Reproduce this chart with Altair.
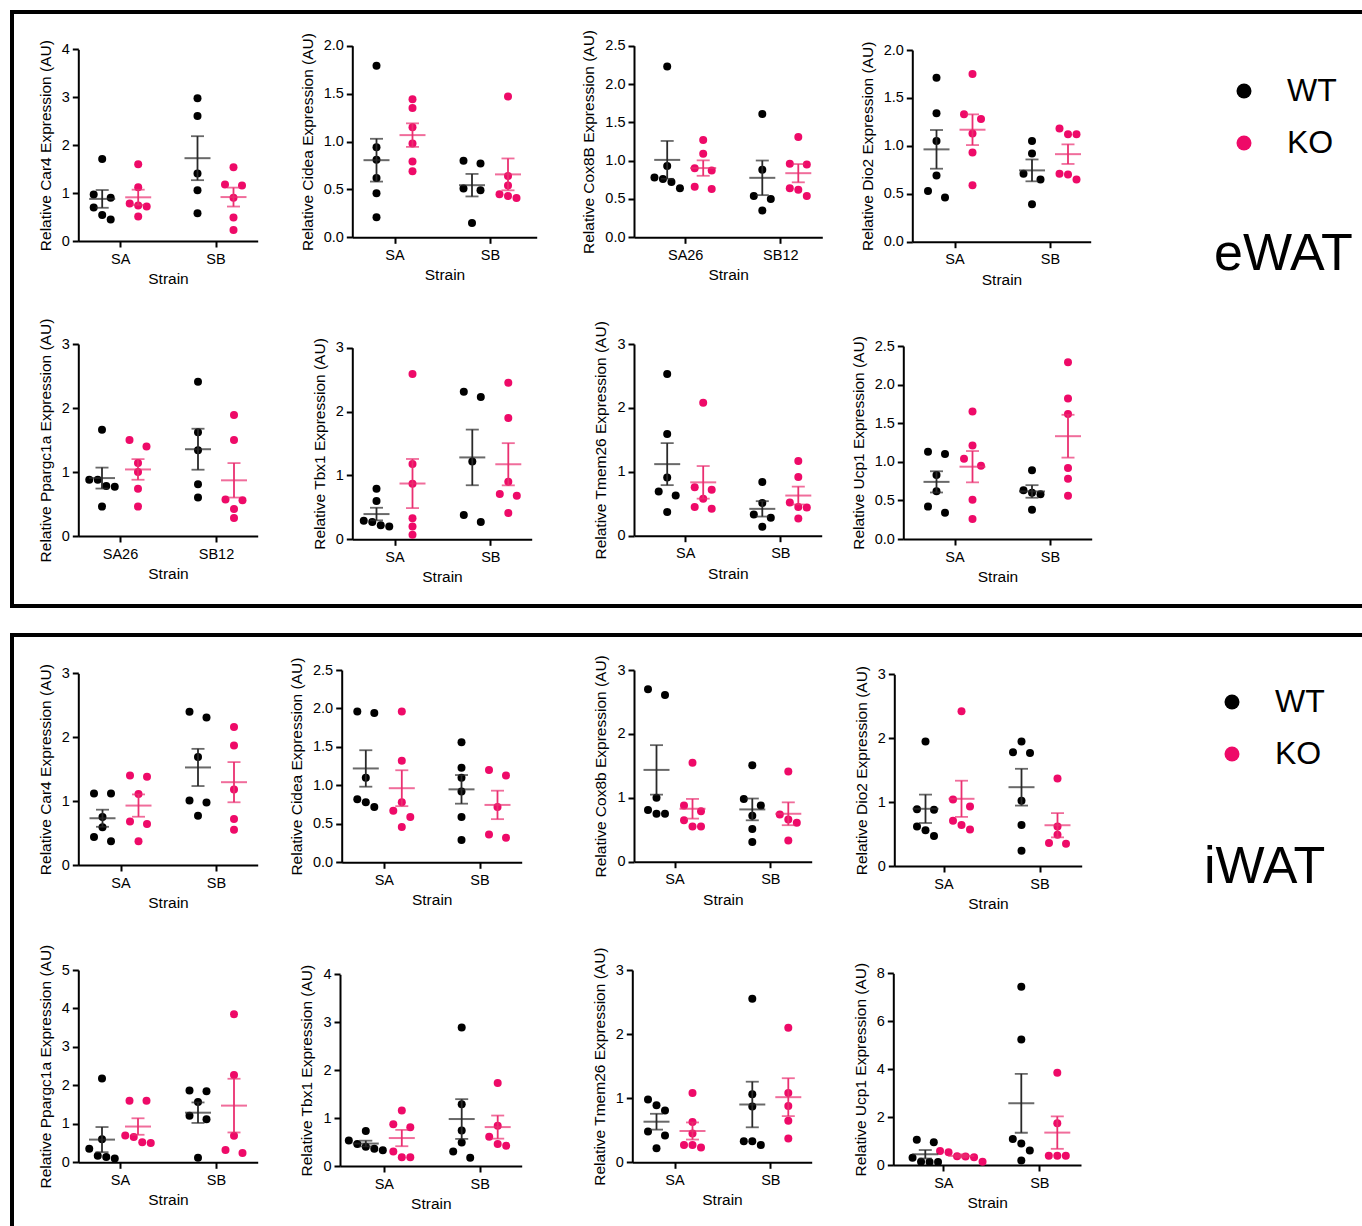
import altair as alt
import pandas as pd

# ---------------- data ----------------
# eWAT
E_CAR4 = {"WT_SA": [1.71, 0.97, 0.90, 0.70, 0.54, 0.45], "KO_SA": [1.60, 1.12, 0.78, 0.74, 0.72, 0.51],
          "WT_SB": [2.98, 2.61, 1.41, 1.06, 0.58], "KO_SB": [1.54, 1.18, 1.16, 0.90, 0.49, 0.23]}
E_CIDEA = {"WT_SA": [1.79, 0.94, 0.81, 0.62, 0.46, 0.21], "KO_SA": [1.44, 1.35, 1.15, 0.98, 0.79, 0.69],
           "WT_SB": [0.80, 0.77, 0.51, 0.49, 0.15], "KO_SB": [1.47, 0.64, 0.54, 0.45, 0.43, 0.41]}
E_COX8B = {"WT_SA": [2.23, 0.93, 0.78, 0.76, 0.72, 0.64], "KO_SA": [1.27, 1.09, 0.90, 0.87, 0.66, 0.63],
           "WT_SB": [1.61, 0.88, 0.54, 0.50, 0.35], "KO_SB": [1.31, 0.96, 0.95, 0.64, 0.62, 0.54]}
E_DIO2 = {"WT_SA": [1.71, 1.34, 1.05, 0.69, 0.53, 0.46], "KO_SA": [1.75, 1.33, 1.28, 1.13, 0.93, 0.59],
          "WT_SB": [1.05, 0.92, 0.71, 0.65, 0.39], "KO_SB": [1.18, 1.12, 1.12, 0.71, 0.70, 0.65]}
E_PPARGC1A = {"WT_SA": [1.66, 0.88, 0.88, 0.78, 0.77, 0.46], "KO_SA": [1.50, 1.40, 1.14, 1.00, 0.74, 0.46],
              "WT_SB": [2.41, 1.62, 1.34, 0.81, 0.60], "KO_SB": [1.89, 1.50, 0.57, 0.56, 0.42, 0.28]}
E_TBX1 = {"WT_SA": [0.79, 0.60, 0.29, 0.27, 0.22, 0.20], "KO_SA": [2.59, 1.18, 0.87, 0.33, 0.20, 0.07],
          "WT_SB": [2.31, 2.23, 1.22, 0.38, 0.27], "KO_SB": [2.45, 1.90, 0.90, 0.71, 0.68, 0.41]}
E_TMEM26 = {"WT_SA": [2.53, 1.59, 0.91, 0.69, 0.63, 0.37], "KO_SA": [2.08, 0.76, 0.72, 0.58, 0.45, 0.42],
            "WT_SB": [0.84, 0.51, 0.33, 0.28, 0.14], "KO_SB": [1.17, 0.92, 0.52, 0.45, 0.44, 0.27]}
E_UCP1 = {"WT_SA": [1.13, 1.10, 0.83, 0.62, 0.42, 0.34], "KO_SA": [1.65, 1.21, 1.04, 0.95, 0.51, 0.26],
          "WT_SB": [0.89, 0.63, 0.60, 0.58, 0.38], "KO_SB": [2.29, 1.82, 1.62, 0.92, 0.78, 0.56]}
# iWAT
I_CAR4 = {"WT_SA": [1.12, 1.12, 0.75, 0.59, 0.44, 0.37], "KO_SA": [1.40, 1.38, 1.11, 0.68, 0.64, 0.37],
          "WT_SB": [2.40, 2.31, 1.69, 1.01, 0.98, 0.77], "KO_SB": [2.16, 1.87, 1.18, 0.72, 0.55]}
I_CIDEA = {"WT_SA": [1.96, 1.94, 1.10, 0.82, 0.78, 0.72], "KO_SA": [1.96, 1.32, 0.78, 0.67, 0.59, 0.46],
           "WT_SB": [1.56, 1.23, 1.10, 0.92, 0.59, 0.29], "KO_SB": [1.20, 1.13, 0.72, 0.36, 0.32]}
I_COX8B = {"WT_SA": [2.70, 2.61, 1.00, 0.81, 0.75, 0.75], "KO_SA": [1.55, 0.88, 0.79, 0.65, 0.55, 0.55],
           "WT_SB": [1.51, 0.98, 0.88, 0.72, 0.51, 0.31], "KO_SB": [1.41, 0.74, 0.66, 0.61, 0.33]}
I_DIO2 = {"WT_SA": [1.95, 0.89, 0.88, 0.62, 0.56, 0.47], "KO_SA": [2.42, 1.04, 0.93, 0.71, 0.64, 0.57],
          "WT_SB": [1.95, 1.78, 1.77, 1.02, 0.64, 0.24], "KO_SB": [1.37, 0.62, 0.49, 0.36, 0.35]}
I_PPARGC1A = {"WT_SA": [2.18, 0.60, 0.35, 0.17, 0.14, 0.10], "KO_SA": [1.60, 1.60, 0.70, 0.66, 0.52, 0.50],
              "WT_SB": [1.87, 1.85, 1.57, 1.21, 1.12, 0.12], "KO_SB": [3.85, 2.27, 0.69, 0.32, 0.24]}
I_TBX1 = {"WT_SA": [0.73, 0.53, 0.46, 0.40, 0.36, 0.33], "KO_SA": [1.16, 0.87, 0.81, 0.30, 0.18, 0.18],
          "WT_SB": [2.89, 1.29, 0.74, 0.49, 0.30, 0.17], "KO_SB": [1.73, 0.84, 0.61, 0.46, 0.42]}
I_TMEM26 = {"WT_SA": [0.98, 0.89, 0.81, 0.48, 0.42, 0.22], "KO_SA": [1.08, 0.63, 0.45, 0.27, 0.27, 0.23],
            "WT_SB": [2.55, 1.06, 0.87, 0.33, 0.33, 0.27], "KO_SB": [2.10, 1.08, 0.88, 0.65, 0.37]}
I_UCP1 = {"WT_SA": [1.05, 0.95, 0.30, 0.14, 0.13, 0.12], "KO_SA": [0.58, 0.53, 0.36, 0.35, 0.32, 0.14],
          "WT_SB": [7.44, 5.24, 1.08, 0.90, 0.60, 0.19], "KO_SB": [3.85, 1.74, 0.39, 0.39, 0.39]}

CATS_AB = ["SA", "SB"]
CATS_NUM = ["SA26", "SB12"]
GENOTYPES = ["WT", "KO"]

# (gene label, data, y max, y tick step, category labels)
PANELS_E = [("Car4", E_CAR4, 4, 1, CATS_AB), ("Cidea", E_CIDEA, 2, 0.5, CATS_AB),
            ("Cox8B", E_COX8B, 2.5, 0.5, CATS_NUM), ("Dio2", E_DIO2, 2, 0.5, CATS_AB),
            ("Ppargc1a", E_PPARGC1A, 3, 1, CATS_NUM), ("Tbx1", E_TBX1, 3, 1, CATS_AB),
            ("Tmem26", E_TMEM26, 3, 1, CATS_AB), ("Ucp1", E_UCP1, 2.5, 0.5, CATS_AB)]
PANELS_I = [("Car4", I_CAR4, 3, 1, CATS_AB), ("Cidea", I_CIDEA, 2.5, 0.5, CATS_AB),
            ("Cox8b", I_COX8B, 3, 1, CATS_AB), ("Dio2", I_DIO2, 3, 1, CATS_AB),
            ("Ppargc1a", I_PPARGC1A, 5, 1, CATS_AB), ("Tbx1", I_TBX1, 4, 1, CATS_AB),
            ("Tmem26", I_TMEM26, 3, 1, CATS_AB), ("Ucp1", I_UCP1, 8, 2, CATS_AB)]

# ---------------- layout (pixels): y of 0, y of max, x axis left/right, SA tick, SB tick ----------------
LAYOUT_E = [(241.0, 49.3, 78.3, 257.7, 120.2, 215.5), (237.3, 45.7, 352.3, 536.7, 394.5, 490.0),
            (237.3, 45.7, 634.0, 822.3, 685.2, 780.3), (241.7, 50.0, 912.3, 1090.7, 954.5, 1050.0),
            (536.0, 344.0, 78.3, 257.7, 120.0, 216.0), (539.3, 347.7, 352.3, 531.7, 394.5, 490.3),
            (535.7, 344.0, 634.0, 821.7, 685.2, 780.3), (539.0, 346.0, 903.3, 1091.7, 954.5, 1050.0)]
LAYOUT_I = [(865.0, 673.3, 78.3, 257.7, 120.5, 216.0), (862.3, 670.0, 341.7, 521.7, 383.8, 479.5),
            (861.7, 670.0, 634.0, 811.7, 674.5, 770.3), (866.0, 674.3, 894.3, 1081.7, 943.5, 1039.5),
            (1162.3, 970.0, 78.3, 257.7, 120.0, 216.0), (1166.0, 974.3, 340.0, 521.7, 383.8, 479.7),
            (1162.3, 970.0, 632.3, 811.7, 674.5, 770.3), (1165.0, 973.3, 893.3, 1081.0, 943.3, 1039.3)]

W, H = 1362, 1226
FONT = "Liberation Sans"
WT_COL, KO_COL = "#000000", "#EE0A68"
WT_LINE, KO_LINE = "#2a2a2a", "#EA2F70"
PT_D = 8.0      # point diameter (px)
SLOT = 8.5      # horizontal spacing of overlapping points (px)
GROUP_PX = 18   # WT / KO offset from the category tick (px)


def swarm_offsets(vals, ppx):
    """Spread points that would overlap vertically into symmetric rows (pixels)."""
    order = sorted(range(len(vals)), key=lambda i: -vals[i])
    rows = []
    for i in order:
        ypx = vals[i] * ppx
        if rows and rows[-1][-1][1] - ypx < PT_D + 0.2:
            rows[-1].append((i, ypx))
        else:
            rows.append([(i, ypx)])
    offs = [0.0] * len(vals)
    for row in rows:
        k = len(row)
        if k == 2:
            pos = [-SLOT, SLOT]
        else:
            pos = [(j - (k - 1) / 2) * SLOT for j in range(k)]
        for (i, _), p in zip(row, pos):
            offs[i] = p
    return offs


def make_panel(spec, lay, legend):
    gene, data, ymax, step, cats = spec
    y0, ytop, xl, xr, sa, sb = lay
    ppu = sb - sa
    ppx = (y0 - ytop) / ymax
    rows = []
    for key, vals in data.items():
        geno, strain = key.split("_")
        si = 1 if strain == "SA" else 2
        gx = si + (-1 if geno == "WT" else 1) * GROUP_PX / ppu
        for v, o in zip(vals, swarm_offsets(vals, ppx)):
            rows.append({"geno": geno, "gx": gx, "xpos": gx + o / ppu, "value": v})
    df = pd.DataFrame(rows)

    xs = alt.Scale(domain=[1 - (sa - xl) / ppu, 2 + (xr - sb) / ppu], range=[xl, xr], nice=False, zero=False)
    ys = alt.Scale(domain=[0, ymax], range=[y0, ytop], nice=False, zero=False)
    n = int(round(ymax / step))
    yvals = [round(i * step, 3) for i in range(n + 1)]
    xaxis = alt.Axis(orient="bottom", offset=y0 - H, values=[1, 2],
                     labelExpr=f"datum.value == 1 ? '{cats[0]}' : '{cats[1]}'",
                     title="Strain")
    yaxis = alt.Axis(orient="left", offset=-xl, values=yvals,
                     format=".1f" if step < 1 else "d",
                     title=f"Relative {gene} Expression (AU)")

    def X(f):
        return alt.X(f, type="quantitative", scale=xs, axis=xaxis)

    def Y(f):
        return alt.Y(f, type="quantitative", scale=ys, axis=yaxis)

    cscale = alt.Scale(domain=GENOTYPES, range=[WT_COL, KO_COL])
    pts = alt.Chart(df).mark_circle(size=PT_D ** 2, opacity=1).encode(
        x=X("xpos"), y=Y("value"),
        color=alt.Color("geno:N", scale=cscale, legend=legend))
    stats = alt.Chart(df).transform_aggregate(
        m="mean(value)", se="stderr(value)", groupby=["geno", "gx"]
    ).transform_calculate(lo="datum.m - datum.se", hi="datum.m + datum.se")
    lc = alt.condition(alt.datum.geno == "WT", alt.value(WT_LINE), alt.value(KO_LINE))
    bar = stats.mark_rule(strokeWidth=1.8).encode(x=X("gx"), y=Y("lo"), y2="hi:Q", color=lc)
    cap_lo = stats.mark_tick(orient="horizontal", size=13, thickness=1.8).encode(x=X("gx"), y=Y("lo"), color=lc)
    cap_hi = stats.mark_tick(orient="horizontal", size=13, thickness=1.8).encode(x=X("gx"), y=Y("hi"), color=lc)
    mean = stats.mark_tick(orient="horizontal", size=26, thickness=2).encode(x=X("gx"), y=Y("m"), color=lc)
    return alt.layer(pts, bar, cap_lo, cap_hi, mean)


def make_legend(lx, ly):
    return alt.Legend(orient="none", legendX=lx, legendY=ly, title=None, symbolType="circle",
                      symbolSize=225, symbolStrokeWidth=0, labelFont=FONT, labelFontSize=32,
                      labelColor="black", labelOffset=27, rowPadding=20, padding=0, labelLimit=0)


leg_e = make_legend(1228, 75)
leg_i = make_legend(1216, 686)
sec_e = alt.layer(*[make_panel(s, l, leg_e) for s, l in zip(PANELS_E, LAYOUT_E)]).resolve_scale(
    x="independent", y="independent", color="shared")
sec_i = alt.layer(*[make_panel(s, l, leg_i) for s, l in zip(PANELS_I, LAYOUT_I)]).resolve_scale(
    x="independent", y="independent", color="shared")

one = pd.DataFrame({"k": [0]})
box_e = alt.Chart(one).mark_rect(fillOpacity=0, stroke="black", strokeWidth=4).encode(
    x=alt.value(12), x2=alt.value(1420), y=alt.value(12), y2=alt.value(606))
box_i = alt.Chart(one).mark_rect(fillOpacity=0, stroke="black", strokeWidth=4).encode(
    x=alt.value(12), x2=alt.value(1420), y=alt.value(635), y2=alt.value(1260))
txt_e = alt.Chart(one).mark_text(text="eWAT", font=FONT, fontSize=52, align="left",
                                 baseline="alphabetic", color="black").encode(
    x=alt.value(1214), y=alt.value(270))
txt_i = alt.Chart(one).mark_text(text="iWAT", font=FONT, fontSize=52, align="left",
                                 baseline="alphabetic", color="black").encode(
    x=alt.value(1204), y=alt.value(883))

chart = alt.layer(box_e, box_i, txt_e, txt_i, sec_e, sec_i).resolve_scale(
    x="independent", y="independent", color="independent"
).properties(
    width=W, height=H, padding=0, autosize=alt.AutoSizeParams(type="none"), background="white"
).configure_view(stroke=None).configure_axis(
    grid=False, domainColor="black", domainWidth=2, tickColor="black", tickWidth=2, tickSize=6,
    labelFont=FONT, labelFontSize=14.5, labelColor="black", labelFlush=False, labelOverlap=False,
    titleFont=FONT, titleFontSize=15.5, titleFontWeight="normal", titleColor="black"
).configure_axisX(labelPadding=5, titlePadding=6).configure_axisY(labelPadding=3, titlePadding=8)

chart.save("out.html", embed_options={"renderer": "svg", "actions": False})
